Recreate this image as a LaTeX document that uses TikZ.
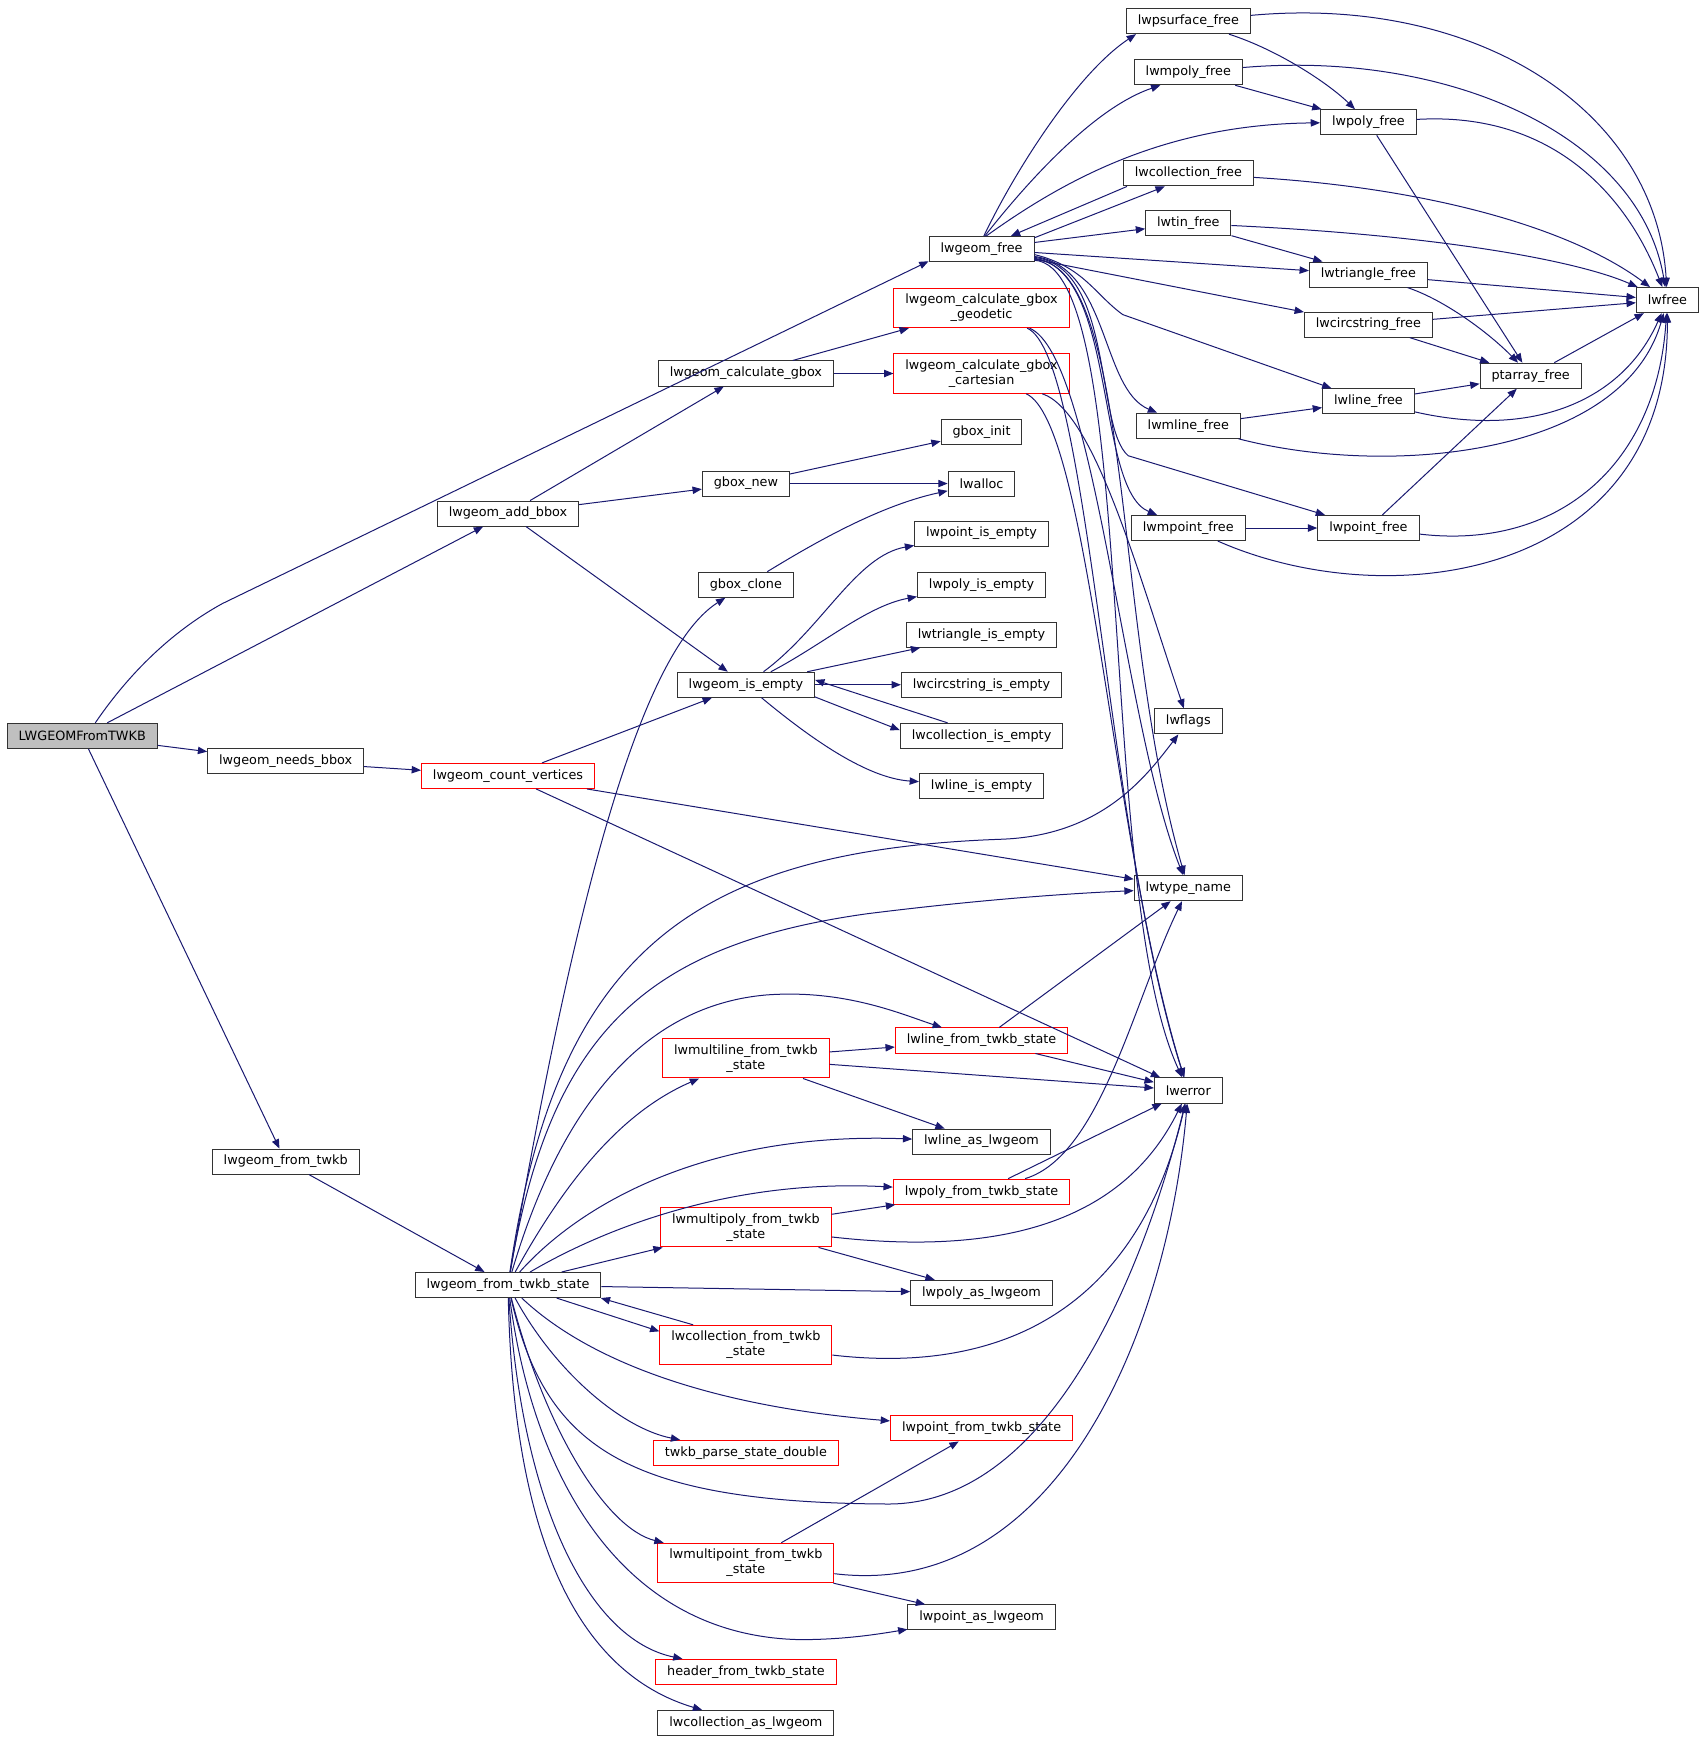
\documentclass[tikz,border=0pt]{standalone}
\usepackage{fontspec}
\setmainfont{DejaVu Sans}
\usetikzlibrary{%
  arrows.meta%
}
\definecolor{callblue}{HTML}{191970}
\tikzset{
  fn/.style={draw=black!80, line width=0.75pt, fill=white,
    font=\fontsize{9.6}{11.3}\selectfont, inner xsep=8.6pt, inner ysep=2pt,
    minimum height=18.8pt, align=center},
  fnred/.style={fn, draw=red},
  fnroot/.style={fn, fill=black!25},
  twoline/.style={minimum height=29.6pt},
  call/.style={draw=callblue, line width=0.75pt, -{Triangle[length=7pt,width=5.5pt]}},
}

\begin{document}
\begin{tikzpicture}[x=0.8338pt, y=-0.8338pt]
  \useasboundingbox (0,0) rectangle (1530,1568);
  % nodes, column by column
  \node[fnroot] (root) at (74,662) {LWGEOMFromTWKB};
  \node[fn] (needsbbox) at (257,685) {lwgeom\_needs\_bbox};
  \node[fn] (fromtwkb) at (257,1045) {lwgeom\_from\_twkb};
  \node[fn] (addbbox) at (457,462) {lwgeom\_add\_bbox};
  \node[fnred] (countv) at (457,698) {lwgeom\_count\_vertices};
  \node[fn] (state) at (457,1156) {lwgeom\_from\_twkb\_state};
  \node[fn] (calcgbox) at (671,336) {lwgeom\_calculate\_gbox};
  \node[fn] (gboxnew) at (671,435) {gbox\_new};
  \node[fn] (gboxclone) at (671,526) {gbox\_clone};
  \node[fn] (isempty) at (671,616) {lwgeom\_is\_empty};
  \node[fnred,twoline] (mlinest) at (671,952) {lwmultiline\_from\_twkb\\\_state};
  \node[fnred,twoline] (mpolyst) at (671,1104) {lwmultipoly\_from\_twkb\\\_state};
  \node[fnred,twoline] (collst) at (671,1210) {lwcollection\_from\_twkb\\\_state};
  \node[fnred] (parsed) at (671,1307) {twkb\_parse\_state\_double};
  \node[fnred,twoline] (mpointst) at (671,1406) {lwmultipoint\_from\_twkb\\\_state};
  \node[fnred] (headerst) at (671,1504) {header\_from\_twkb\_state};
  \node[fn] (collas) at (671,1550) {lwcollection\_as\_lwgeom};
  \node[fn] (freeg) at (883,224) {lwgeom\_free};
  \node[fnred,twoline] (geod) at (883,277) {lwgeom\_calculate\_gbox\\\_geodetic};
  \node[fnred,twoline] (cart) at (883,336) {lwgeom\_calculate\_gbox\\\_cartesian};
  \node[fn] (gboxinit) at (883,389) {gbox\_init};
  \node[fn] (lwalloc) at (883,435) {lwalloc};
  \node[fn] (pointempty) at (883,480) {lwpoint\_is\_empty};
  \node[fn] (polyempty) at (883,526) {lwpoly\_is\_empty};
  \node[fn] (triempty) at (883,571) {lwtriangle\_is\_empty};
  \node[fn] (circempty) at (883,616) {lwcircstring\_is\_empty};
  \node[fn] (collempty) at (883,662) {lwcollection\_is\_empty};
  \node[fn] (lineempty) at (883,707) {lwline\_is\_empty};
  \node[fnred] (linest) at (883,936) {lwline\_from\_twkb\_state};
  \node[fn] (lineas) at (883,1027) {lwline\_as\_lwgeom};
  \node[fnred] (polyst) at (883,1072) {lwpoly\_from\_twkb\_state};
  \node[fn] (polyas) at (883,1163) {lwpoly\_as\_lwgeom};
  \node[fnred] (pointst) at (883,1285) {lwpoint\_from\_twkb\_state};
  \node[fn] (pointas) at (883,1455) {lwpoint\_as\_lwgeom};
  \node[fn] (psurf) at (1069,19) {lwpsurface\_free};
  \node[fn] (mpolyf) at (1069,65) {lwmpoly\_free};
  \node[fn] (collf) at (1069,156) {lwcollection\_free};
  \node[fn] (tinf) at (1069,201) {lwtin\_free};
  \node[fn] (mlinef) at (1069,383) {lwmline\_free};
  \node[fn] (mpointf) at (1069,475) {lwmpoint\_free};
  \node[fn] (lwflags) at (1069,649) {lwflags};
  \node[fn] (typename) at (1069,799) {lwtype\_name};
  \node[fn] (lwerr) at (1069,981) {lwerror};
  \node[fn] (polyf) at (1231,110) {lwpoly\_free};
  \node[fn] (trif) at (1231,247) {lwtriangle\_free};
  \node[fn] (circf) at (1231,292) {lwcircstring\_free};
  \node[fn] (linef) at (1231,361) {lwline\_free};
  \node[fn] (pointf) at (1231,475) {lwpoint\_free};
  \node[fn] (ptarray) at (1377,338) {ptarray\_free};
  \node[fn] (lwfree) at (1500,270) {lwfree};

  % calls from the root
  \draw[call] (root.45) .. controls (120,600) and (160,565) .. (200,543) -- (freeg.193);
  \draw[call] (root) -- (addbbox);
  \draw[call] (root) -- (needsbbox);
  \draw[call] (root) -- (fromtwkb);
  \draw[call] (needsbbox) -- (countv);
  \draw[call] (fromtwkb) -- (state);
  \draw[call] (addbbox) -- (calcgbox);
  \draw[call] (addbbox) -- (gboxnew);
  \draw[call] (addbbox) -- (isempty);
  \draw[call] (countv) -- (isempty);
  \draw[call] (countv) -- (typename);
  \draw[call] (countv) -- (lwerr);
  \draw[call] (calcgbox) -- (geod);
  \draw[call] (calcgbox) -- (cart);
  \draw[call] (gboxnew) -- (gboxinit);
  \draw[call] (gboxnew) -- (lwalloc);
  \draw[call] (gboxclone) .. controls (730,490) and (790,455) .. (lwalloc);

  % lwgeom_is_empty
  \draw[call] (isempty) .. controls (740,565) and (770,500) .. (pointempty);
  \draw[call] (isempty) .. controls (740,580) and (780,545) .. (polyempty);
  \draw[call] (isempty) -- (triempty);
  \draw[call] (isempty) -- (circempty);
  \draw[call] (isempty.-10) -- (collempty.176);
  \draw[call] (collempty.159) -- (isempty.4);
  \draw[call] (isempty) .. controls (730,665) and (780,700) .. (lineempty);

  % lwgeom_free
  \draw[call] (freeg.80) .. controls (915,150) and (970,65) .. (psurf.194);
  \draw[call] (freeg.76) .. controls (935,150) and (990,95) .. (mpolyf.205);
  \draw[call] (freeg.70) .. controls (960,160) and (1050,112) .. (polyf);
  \draw[call] (freeg.12) -- (collf.209);
  \draw[call] (collf.192) -- (freeg.24);
  \draw[call] (freeg) -- (tinf);
  \draw[call] (freeg) -- (trif);
  \draw[call] (freeg) -- (circf);
  \draw[call] (freeg.-6) .. controls (975,240) and (985,265) .. (1010,283) -- (linef);
  \draw[call] (freeg.-8) .. controls (998,240) and (990,350) .. (mlinef);
  \draw[call] (freeg.-10) .. controls (1005,242) and (985,440) .. (mpointf);
  \draw[call] (freeg.-9) .. controls (1002,240) and (985,385) .. (1015,410) -- (pointf);
  \draw[call] (freeg.-11) .. controls (1020,238) and (1000,560) .. (typename);
  \draw[call] (freeg.-12) .. controls (1025,240) and (985,800) .. (lwerr);
  \draw[call] (geod) .. controls (985,320) and (1010,650) .. (typename);
  \draw[call] (geod) .. controls (980,320) and (995,750) .. (lwerr);
  \draw[call] (cart) .. controls (985,370) and (1025,520) .. (lwflags);
  \draw[call] (cart) .. controls (980,380) and (1000,760) .. (lwerr);

  % the free functions
  \draw[call] (psurf) .. controls (1330,-5) and (1490,100) .. (lwfree);
  \draw[call] (psurf) .. controls (1150,45) and (1195,75) .. (polyf);
  \draw[call] (mpolyf) -- (polyf);
  \draw[call] (mpolyf) .. controls (1300,45) and (1475,120) .. (lwfree);
  \draw[call] (polyf) .. controls (1400,100) and (1465,180) .. (lwfree);
  \draw[call] (polyf) -- (ptarray);
  \draw[call] (collf) .. controls (1300,170) and (1420,210) .. (lwfree);
  \draw[call] (tinf) -- (trif);
  \draw[call] (tinf) .. controls (1300,212) and (1420,235) .. (lwfree);
  \draw[call] (trif) -- (lwfree);
  \draw[call] (trif) .. controls (1300,270) and (1340,300) .. (ptarray);
  \draw[call] (circf) -- (lwfree);
  \draw[call] (circf) -- (ptarray);
  \draw[call] (ptarray) -- (lwfree);
  \draw[call] (linef) -- (ptarray);
  \draw[call] (linef) .. controls (1380,395) and (1460,360) .. (lwfree);
  \draw[call] (mlinef) -- (linef);
  \draw[call] (mlinef) .. controls (1250,430) and (1460,410) .. (lwfree);
  \draw[call] (mpointf) -- (pointf);
  \draw[call] (mpointf) .. controls (1250,555) and (1500,520) .. (lwfree);
  \draw[call] (pointf) -- (ptarray);
  \draw[call] (pointf) .. controls (1400,495) and (1490,420) .. (lwfree);

  % lwgeom_from_twkb_state
  \draw[call] (state) .. controls (510,850) and (570,590) .. (gboxclone);
  \draw[call] (state) .. controls (500,860) and (620,765) .. (900,755) .. controls (990,752) and (1030,700) .. (lwflags);
  \draw[call] (state) .. controls (495,930) and (580,850) .. (780,822) .. controls (900,807) and (980,803) .. (typename);
  \draw[call] (state) .. controls (500,1010) and (570,905) .. (690,895) .. controls (760,890) and (810,912) .. (linest);
  \draw[call] (state) .. controls (510,1060) and (560,1000) .. (mlinest);
  \draw[call] (state) .. controls (525,1080) and (640,1018) .. (lineas);
  \draw[call] (state) .. controls (535,1110) and (650,1060) .. (polyst);
  \draw[call] (state) -- (mpolyst);
  \draw[call] (state) -- (polyas);
  \draw[call] (state.-15) -- (collst.171);
  \draw[call] (collst.159) -- (state.-8);
  \draw[call] (state) .. controls (530,1225) and (640,1265) .. (pointst);
  \draw[call] (state) .. controls (500,1235) and (560,1285) .. (parsed);
  \draw[call] (state) .. controls (490,1300) and (560,1352) .. (800,1353) .. controls (960,1352) and (1040,1100) .. (lwerr);
  \draw[call] (state) .. controls (490,1285) and (545,1375) .. (mpointst);
  \draw[call] (state) .. controls (480,1330) and (560,1472) .. (720,1475) .. controls (760,1475) and (790,1470) .. (pointas);
  \draw[call] (state) .. controls (470,1355) and (530,1475) .. (headerst);
  \draw[call] (state) .. controls (462,1385) and (520,1505) .. (collas);

  % the twkb readers
  \draw[call] (mlinest) -- (linest);
  \draw[call] (mlinest) -- (lwerr);
  \draw[call] (mlinest) -- (lineas);
  \draw[call] (linest) -- (typename);
  \draw[call] (linest) -- (lwerr);
  \draw[call] (polyst) .. controls (990,1040) and (1020,900) .. (typename);
  \draw[call] (polyst) -- (lwerr);
  \draw[call] (mpolyst) -- (polyst);
  \draw[call] (mpolyst) .. controls (900,1130) and (1010,1100) .. (lwerr);
  \draw[call] (mpolyst) -- (polyas);
  \draw[call] (collst) .. controls (930,1240) and (1030,1150) .. (lwerr);
  \draw[call] (mpointst) -- (pointst);
  \draw[call] (mpointst) .. controls (950,1440) and (1050,1200) .. (lwerr);
  \draw[call] (mpointst) -- (pointas);
\end{tikzpicture}
\end{document}
